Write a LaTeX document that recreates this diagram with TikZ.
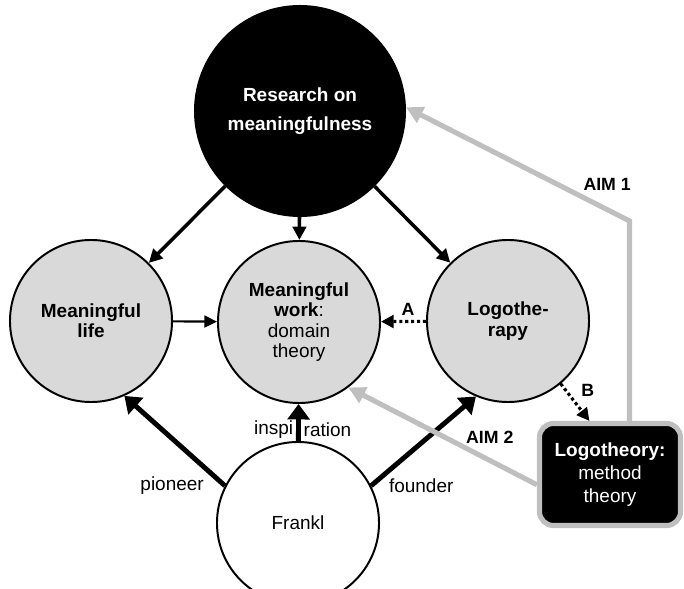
\documentclass[tikz,border=0pt]{standalone}
\usepackage{fontspec}
\setmainfont{Liberation Sans}
\usetikzlibrary{arrows.meta}
\definecolor{bubblegray}{HTML}{D9D9D9}
\definecolor{aimgray}{HTML}{BFBFBF}

\begin{document}
\begin{tikzpicture}[x=0.025cm,y=-0.025cm,
    font=\fontsize{13.5}{14.4}\selectfont,
    bubble/.style={circle,draw,line width=1.4pt,fill=bubblegray,minimum size=4.05cm,inner sep=0pt,align=center},
    push/.style={-{Triangle[length=9.5pt,width=9.5pt]},line width=2.5pt},
    pull/.style={-{Triangle[length=11pt,width=15.5pt]},line width=3.5pt},
    lead/.style={-{Triangle[length=9pt,width=8.5pt]},line width=1.5pt},
    hint/.style={-{Triangle[length=9pt,width=9pt]},line width=2.2pt,dotted},
    aim/.style={-{Triangle[length=12pt,width=12pt]},line width=3.6pt,aimgray},
    tag/.style={font=\bfseries\fontsize{12.6}{14}\selectfont}]
\clip (0,0) rectangle (684,589);
\draw (300,111)
    node [bubble,fill=black,text=white,minimum size=5.25cm,font=\bfseries\fontsize{13.5}{20.6}\selectfont] (research) {Research on\\ meaningfulness};
\draw (91,321) node [bubble,font=\bfseries\fontsize{13.5}{14.4}\selectfont] (life) {Meaningful\\ life};
\draw (299,322) node [bubble] (work) {\textbf{Meaningful}\\ \textbf{work}:\\ domain\\ theory};
\draw (508,321) node [bubble,font=\bfseries\fontsize{13.5}{14.4}\selectfont] (logo) {Logothe-\\ rapy};
\draw (298,523) node [bubble,fill=white] (frankl) {Frankl};
\draw (610,474.5)
    node [draw=aimgray,fill=black,text=white,line width=3.6pt,rounded corners=0.35cm,
    minimum width=3.525cm,minimum height=2.55cm,align=center,font=\fontsize{13.5}{16.4}\selectfont] (theory) {\textbf{Logotheory:}\\ method\\ theory};
\draw (research) [push] -- (life);
\draw (research) [push] -- (work);
\draw (research) [push] -- (logo);
\draw (life) [lead] -- (work);
\draw (logo) [hint] -- (work) node [pos=0.4,above,tag] {A};
\draw (logo.-50) [hint] -- (theory.111) node [midway,above right,tag] {B};
\draw (frankl.153) [pull] -- (life.-66) node [at start,left=0.35cm] {pioneer};
\draw (frankl) [pull] -- (work)
    node [pos=0.3,left,inner sep=2pt] {inspi}
    node [pos=0.3,right,inner sep=2pt] {ration};
\draw (frankl.27) [pull] -- (logo.-113) node [at start,right=0.27cm] {founder};
\draw (theory.70) [aim] -- ++(0,-200) -- (research.2)
    node [pos=0.1,above=0.3cm,tag,text=black] {AIM 1};
\draw (theory.188) [aim] -- (work.-53)
    node [pos=0.25,above=7pt,tag,text=black] {AIM 2};
\end{tikzpicture}
\end{document}
